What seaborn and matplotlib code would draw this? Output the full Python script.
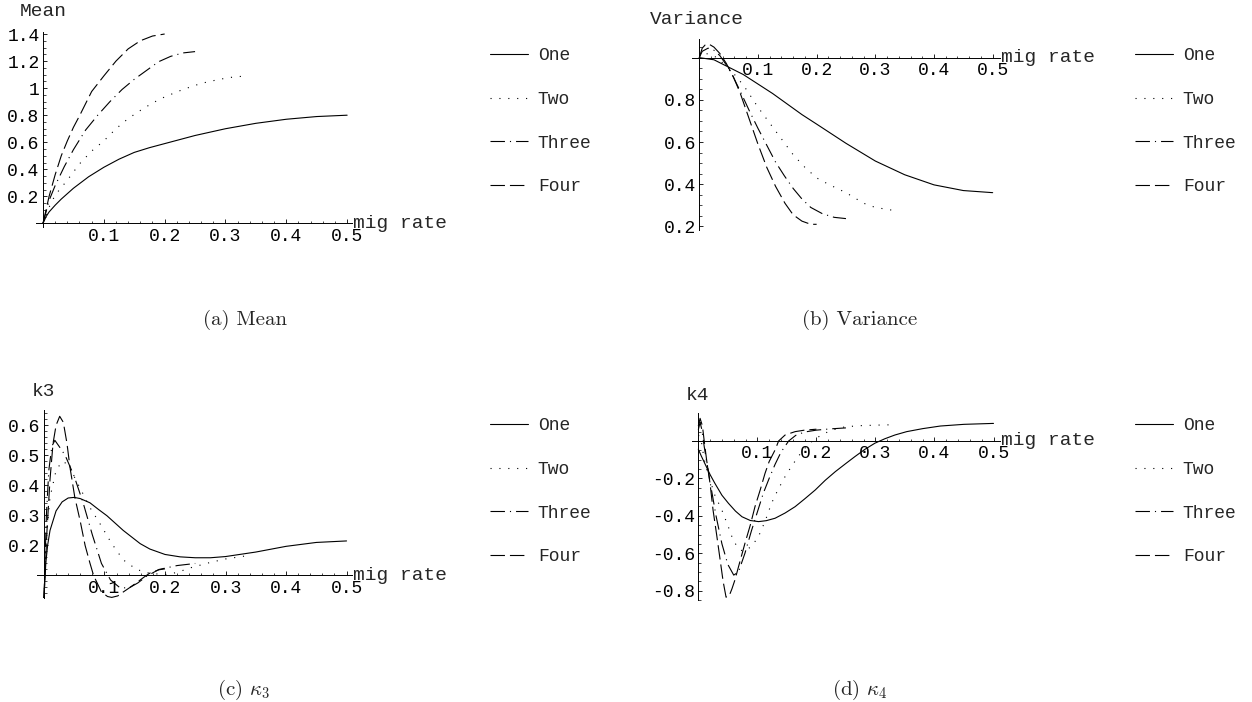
import matplotlib
matplotlib.use("Agg")
import matplotlib.pyplot as plt
import seaborn as sns
from matplotlib.ticker import MultipleLocator

W, H = 1252, 702

SERIES = ["One", "Two", "Three", "Four"]
X_LABEL = "mig rate"
X_TICKS = [0.1, 0.2, 0.3, 0.4, 0.5]
X_TICK_LABELS = ["0.1", "0.2", "0.3", "0.4", "0.5"]

# (a) Mean
MEAN_X_ONE = [0, 0.005, 0.01, 0.02, 0.03, 0.05, 0.075, 0.1, 0.125, 0.15, 0.175, 0.2, 0.25, 0.3, 0.35, 0.4, 0.45, 0.5]
MEAN_Y_ONE = [0, 0.05, 0.085, 0.135, 0.18, 0.26, 0.345, 0.415, 0.475, 0.525, 0.56, 0.59, 0.65, 0.70, 0.74, 0.77, 0.79, 0.80]
MEAN_X_TWO = [0, 0.01, 0.02, 0.04, 0.06, 0.08, 0.1, 0.12, 0.14, 0.16, 0.18, 0.2, 0.23, 0.26, 0.29, 0.31, 0.333]
MEAN_Y_TWO = [0, 0.12, 0.21, 0.32, 0.44, 0.535, 0.61, 0.70, 0.775, 0.835, 0.89, 0.935, 0.99, 1.035, 1.065, 1.08, 1.09]
MEAN_X_THREE = [0, 0.01, 0.02, 0.035, 0.05, 0.07, 0.09, 0.11, 0.13, 0.15, 0.17, 0.19, 0.21, 0.23, 0.25]
MEAN_Y_THREE = [0, 0.17, 0.28, 0.42, 0.545, 0.69, 0.80, 0.90, 0.99, 1.065, 1.13, 1.195, 1.235, 1.26, 1.27]
MEAN_X_FOUR = [0, 0.01, 0.02, 0.03, 0.04, 0.05, 0.06, 0.07, 0.08, 0.1, 0.12, 0.14, 0.16, 0.18, 0.2]
MEAN_Y_FOUR = [0, 0.2, 0.36, 0.5, 0.61, 0.71, 0.795, 0.885, 0.975, 1.09, 1.2, 1.29, 1.35, 1.385, 1.40]
MEAN_Y_TICKS = [0.2, 0.4, 0.6, 0.8, 1.0, 1.2, 1.4]
MEAN_Y_LABELS = ["0.2", "0.4", "0.6", "0.8", "1", "1.2", "1.4"]

# (b) Variance
VAR_X_ONE = [0, 0.025, 0.05, 0.075, 0.1, 0.125, 0.15, 0.175, 0.2, 0.25, 0.3, 0.35, 0.4, 0.45, 0.5]
VAR_Y_ONE = [1, 0.99, 0.955, 0.92, 0.875, 0.83, 0.78, 0.73, 0.685, 0.594, 0.51, 0.445, 0.397, 0.37, 0.36]
VAR_X_TWO = [0, 0.005, 0.01, 0.02, 0.03, 0.04, 0.05, 0.065, 0.08, 0.1, 0.12, 0.14, 0.16, 0.18, 0.2, 0.22, 0.25, 0.28, 0.3, 0.333]
VAR_Y_TWO = [1, 1.015, 1.02, 1.015, 1.0, 0.975, 0.95, 0.905, 0.85, 0.765, 0.69, 0.615, 0.54, 0.48, 0.43, 0.40, 0.36, 0.31, 0.29, 0.275]
VAR_X_THREE = [0, 0.005, 0.015, 0.025, 0.035, 0.045, 0.055, 0.07, 0.085, 0.1, 0.115, 0.13, 0.145, 0.16, 0.175, 0.19, 0.21, 0.23, 0.25]
VAR_Y_THREE = [1, 1.03, 1.045, 1.035, 1.01, 0.97, 0.925, 0.84, 0.75, 0.665, 0.585, 0.505, 0.44, 0.38, 0.33, 0.29, 0.26, 0.243, 0.237]
VAR_X_FOUR = [0, 0.005, 0.01, 0.016, 0.025, 0.035, 0.046, 0.058, 0.07, 0.085, 0.1, 0.115, 0.13, 0.146, 0.16, 0.175, 0.19, 0.2]
VAR_Y_FOUR = [1, 1.045, 1.06, 1.065, 1.05, 1.02, 0.973, 0.91, 0.83, 0.71, 0.59, 0.48, 0.39, 0.31, 0.255, 0.225, 0.21, 0.21]
VAR_Y_TICKS = [0.2, 0.4, 0.6, 0.8]
VAR_Y_LABELS = ["0.2", "0.4", "0.6", "0.8"]

# (c) k3
K3_X_ONE = [0, 0.003, 0.006, 0.01, 0.02, 0.03, 0.04, 0.05, 0.06, 0.076, 0.09, 0.104, 0.12, 0.131, 0.145, 0.159, 0.175, 0.2, 0.225, 0.25, 0.275, 0.3, 0.35, 0.4, 0.45, 0.5]
K3_Y_ONE = [0.025, 0.14, 0.2, 0.25, 0.315, 0.345, 0.358, 0.36, 0.356, 0.342, 0.32, 0.299, 0.27, 0.25, 0.228, 0.206, 0.188, 0.17, 0.162, 0.159, 0.159, 0.163, 0.178, 0.197, 0.21, 0.215]
K3_X_TWO = [0, 0.005, 0.01, 0.02, 0.03, 0.04, 0.054, 0.065, 0.076, 0.093, 0.112, 0.131, 0.153, 0.175, 0.2, 0.22, 0.241, 0.274, 0.3, 0.333]
K3_Y_TWO = [0.025, 0.25, 0.36, 0.45, 0.48, 0.47, 0.413, 0.37, 0.326, 0.271, 0.206, 0.152, 0.12, 0.107, 0.103, 0.11, 0.125, 0.143, 0.155, 0.165]
K3_X_THREE = [0, 0.004, 0.008, 0.013, 0.018, 0.025, 0.035, 0.05, 0.065, 0.08, 0.095, 0.11, 0.125, 0.14, 0.155, 0.17, 0.19, 0.22, 0.25]
K3_Y_THREE = [0.025, 0.3, 0.45, 0.53, 0.55, 0.53, 0.5, 0.43, 0.34, 0.235, 0.14, 0.085, 0.06, 0.058, 0.075, 0.098, 0.12, 0.133, 0.14]
K3_X_FOUR = [0, 0.005, 0.01, 0.015, 0.02, 0.026, 0.032, 0.038, 0.043, 0.051, 0.06, 0.068, 0.076, 0.082, 0.095, 0.105, 0.112, 0.122, 0.131, 0.142, 0.153, 0.165, 0.175, 0.19, 0.2]
K3_Y_FOUR = [0.025, 0.25, 0.42, 0.54, 0.6, 0.63, 0.61, 0.54, 0.46, 0.36, 0.28, 0.2, 0.141, 0.1, 0.045, 0.03, 0.027, 0.032, 0.045, 0.06, 0.076, 0.094, 0.108, 0.119, 0.122]
K3_Y_TICKS = [0.2, 0.3, 0.4, 0.5, 0.6]
K3_Y_LABELS = ["0.2", "0.3", "0.4", "0.5", "0.6"]

# (d) k4
K4_X_ONE = [0, 0.005, 0.011, 0.02, 0.028, 0.04, 0.051, 0.063, 0.074, 0.088, 0.102, 0.115, 0.13, 0.147, 0.164, 0.18, 0.198, 0.215, 0.232, 0.25, 0.265, 0.282, 0.299, 0.316, 0.333, 0.353, 0.38, 0.41, 0.45, 0.5]
K4_Y_ONE = [-0.044, -0.08, -0.12, -0.18, -0.226, -0.29, -0.333, -0.375, -0.405, -0.425, -0.431, -0.426, -0.413, -0.385, -0.351, -0.31, -0.262, -0.21, -0.164, -0.12, -0.084, -0.045, -0.012, 0.012, 0.032, 0.05, 0.066, 0.08, 0.089, 0.094]
K4_X_TWO = [0, 0.004, 0.008, 0.012, 0.02, 0.028, 0.04, 0.051, 0.059, 0.068, 0.076, 0.09, 0.102, 0.113, 0.124, 0.135, 0.147, 0.158, 0.169, 0.18, 0.192, 0.205, 0.22, 0.235, 0.249, 0.275, 0.305, 0.333]
K4_Y_TWO = [0.03, 0.02, -0.06, -0.13, -0.21, -0.29, -0.37, -0.46, -0.53, -0.575, -0.59, -0.565, -0.51, -0.43, -0.333, -0.26, -0.19, -0.135, -0.084, -0.04, -0.004, 0.025, 0.05, 0.066, 0.076, 0.082, 0.085, 0.087]
K4_X_THREE = [0, 0.003, 0.006, 0.01, 0.02, 0.03, 0.04, 0.05, 0.06, 0.068, 0.079, 0.09, 0.1, 0.11, 0.12, 0.13, 0.14, 0.153, 0.165, 0.18, 0.2, 0.225, 0.25]
K4_Y_THREE = [0.06, 0.1, 0.06, -0.03, -0.22, -0.4, -0.55, -0.66, -0.717, -0.7, -0.6, -0.48, -0.38, -0.28, -0.2, -0.125, -0.06, 0.0, 0.03, 0.048, 0.058, 0.065, 0.07]
K4_X_FOUR = [0, 0.003, 0.007, 0.01, 0.014, 0.02, 0.025, 0.031, 0.037, 0.042, 0.047, 0.052, 0.057, 0.062, 0.07, 0.079, 0.088, 0.096, 0.105, 0.113, 0.12, 0.13, 0.136, 0.147, 0.164, 0.18, 0.2]
K4_Y_FOUR = [0.08, 0.121, 0.08, 0.0, -0.1, -0.23, -0.37, -0.5, -0.636, -0.75, -0.835, -0.83, -0.79, -0.743, -0.65, -0.547, -0.45, -0.351, -0.26, -0.173, -0.11, -0.048, 0.0, 0.032, 0.05, 0.058, 0.063]
K4_Y_TICKS = [-0.8, -0.6, -0.4, -0.2]
K4_Y_LABELS = ["-0.8", "-0.6", "-0.4", "-0.2"]

# dash patterns (in linewidth units) for One..Four, Mathematica style
DASHES = [None, (1, 7), (13, 4.5, 1, 4.5), (13, 4.5)]
LW = 0.8
FS = 13
LABEL_FS = 14

sns.set_theme(style="ticks")
plt.rcParams["font.family"] = ["Liberation Mono", "DejaVu Sans"]
plt.rcParams["mathtext.fontset"] = "cm"
plt.rcParams.update({
    "axes.edgecolor": "black",
    "axes.linewidth": 0.7,
    "xtick.color": "black",
    "ytick.color": "black",
    "xtick.direction": "in",
    "ytick.direction": "in",
    "xtick.major.size": 3.2,
    "ytick.major.size": 3.2,
    "xtick.minor.size": 1.8,
    "ytick.minor.size": 1.8,
    "xtick.major.width": 0.6,
    "ytick.major.width": 0.6,
    "xtick.minor.width": 0.5,
    "ytick.minor.width": 0.5,
    "xtick.labelsize": FS,
    "ytick.labelsize": FS,
})

fig = plt.figure(figsize=(W / 100, H / 100), dpi=100)


def px_rect(left, top, right, bottom):
    return [left / W, 1 - bottom / H, (right - left) / W, (bottom - top) / H]


def draw_panel(rect, xlim, ylim, y_origin, curves, yticks, ylabels, yminor,
               ylab, ylab_xy, legend_xy, caption, caption_xy):
    ax = fig.add_axes(px_rect(*rect))
    for (xs, ys), name, dash in zip(curves, SERIES, DASHES):
        sns.lineplot(x=xs, y=ys, ax=ax, color="black", linewidth=LW,
                     sort=False, estimator=None, label=name)
        if dash is not None:
            ax.lines[-1].set_dashes(dash)
    ax.set_xlim(*xlim)
    ax.set_ylim(*ylim)
    for side in ("top", "right"):
        ax.spines[side].set_visible(False)
    ax.spines["left"].set_position(("data", 0))
    ax.spines["bottom"].set_position(("data", y_origin))
    ax.set_xticks(X_TICKS, X_TICK_LABELS)
    ax.set_yticks(yticks, ylabels)
    ax.xaxis.set_minor_locator(MultipleLocator(0.02))
    ax.yaxis.set_minor_locator(MultipleLocator(yminor))
    ax.tick_params(axis="x", which="major", pad=3)
    ax.tick_params(axis="y", which="major", pad=2.5)
    ax.set_xlabel("")
    ax.set_ylabel("")
    ax.annotate(X_LABEL, xy=(1, y_origin), xycoords=("axes fraction", "data"),
                xytext=(1, 0), textcoords="offset points",
                ha="left", va="center", fontsize=LABEL_FS)
    fig.text(ylab_xy[0] / W, 1 - ylab_xy[1] / H, ylab, ha="center",
             va="center", fontsize=LABEL_FS)
    handles, labels = ax.get_legend_handles_labels()
    ax.legend(handles, labels, loc="upper left",
              bbox_to_anchor=(legend_xy[0] / W, 1 - legend_xy[1] / H),
              bbox_transform=fig.transFigure, frameon=False, borderpad=0,
              borderaxespad=0, handlelength=2.1, handletextpad=0.55,
              labelspacing=1.47, fontsize=FS)
    fig.text(caption_xy[0] / W, 1 - caption_xy[1] / H, caption, ha="center",
             va="center", fontsize=15, family="cmr10")
    return ax


draw_panel((36, 31.7, 352, 226.7), (-0.0115, 0.508), (-0.024, 1.417), 0,
           [(MEAN_X_ONE, MEAN_Y_ONE), (MEAN_X_TWO, MEAN_Y_TWO),
            (MEAN_X_THREE, MEAN_Y_THREE), (MEAN_X_FOUR, MEAN_Y_FOUR)],
           MEAN_Y_TICKS, MEAN_Y_LABELS, 0.05, "Mean", (43, 12),
           (490, 47.5), "(a) Mean", (245, 320))

draw_panel((691.7, 39.3, 1000, 230), (-0.0129, 0.5125), (0.183, 1.087), 1,
           [(VAR_X_ONE, VAR_Y_ONE), (VAR_X_TWO, VAR_Y_TWO),
            (VAR_X_THREE, VAR_Y_THREE), (VAR_X_FOUR, VAR_Y_FOUR)],
           VAR_Y_TICKS, VAR_Y_LABELS, 0.05, "Variance", (697, 20),
           (1135, 47.5), "(b) Variance", (860, 320))

draw_panel((36.7, 410, 352, 598), (-0.012, 0.509), (0.025, 0.651), 0.1,
           [(K3_X_ONE, K3_Y_ONE), (K3_X_TWO, K3_Y_TWO),
            (K3_X_THREE, K3_Y_THREE), (K3_X_FOUR, K3_Y_FOUR)],
           K3_Y_TICKS, K3_Y_LABELS, 0.02, "k3", (44, 392),
           (490, 417.5), r"(c) $\kappa_3$", (243, 690))

draw_panel((691.7, 413.3, 1000, 600), (-0.0112, 0.511), (-0.85, 0.148), 0,
           [(K4_X_ONE, K4_Y_ONE), (K4_X_TWO, K4_Y_TWO),
            (K4_X_THREE, K4_Y_THREE), (K4_X_FOUR, K4_Y_FOUR)],
           K4_Y_TICKS, K4_Y_LABELS, 0.05, "k4", (698, 395),
           (1135, 417.5), r"(d) $\kappa_4$", (860, 690))

fig.savefig("out.png", dpi=100)
